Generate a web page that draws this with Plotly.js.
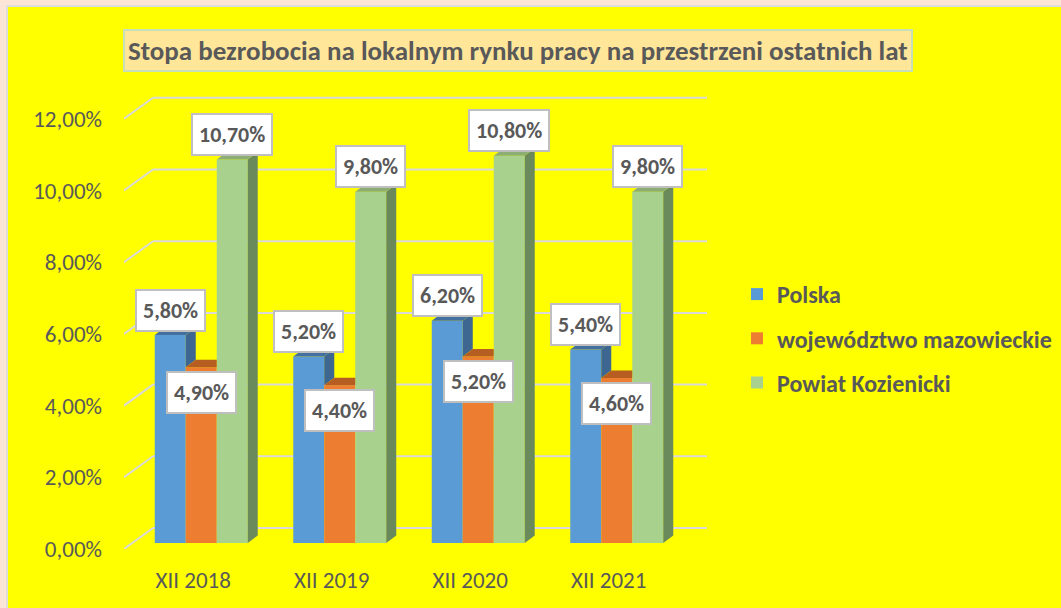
<!DOCTYPE html>
<html>
<head>
<meta charset="utf-8">
<script src="https://cdn.plot.ly/plotly-3.0.1.min.js"></script>
<style>
html,body{margin:0;padding:0;background:#fbe5d6;}
#chart{width:1061px;height:608px;}
</style>
</head>
<body>
<div id="chart"></div>
<script>
// ---- data ----
const categories = ['XII 2018', 'XII 2019', 'XII 2020', 'XII 2021'];
const polska = [5.8, 5.2, 6.2, 5.4];
const mazowieckie = [4.9, 4.4, 5.2, 4.6];
const kozienicki = [10.7, 9.8, 10.8, 9.8];
const seriesNames = ['Polska', 'województwo mazowieckie', 'Powiat Kozienicki'];
const yTicks = [0, 2, 4, 6, 8, 10, 12];
const titleText = 'Stopa bezrobocia na lokalnym rynku pracy na przestrzeni ostatnich lat';

// ---- style / geometry ----
const FONT = 'Carlito, Calibri, Lato, sans-serif';
const TXT = '#595959';
const frontColors = ['#5b9bd5', '#ed7d31', '#a9d18e'];
const topColors = ['#44709f', '#b65e22', '#8cae74'];
const sideColors = ['#3d6690', '#a8561d', '#6b8a5b'];
const PXX = 138.5, PXY = 35.85;
const ML = 124, MT = 83, MB = 59, PW = 583, PH = 466;
const W = 1061, H = 608;
const XMIN = -0.5, XMAX = XMIN + PW / PXX;
const YMAX = PH / PXY;
const BAR_W = 31 / PXX;
const SHIFT = 8 / PXX;
const BASE = 6 / PXY;
const DX = 10 / PXX, DY = 7.5 / PXY;
const WALL_DX = 29 / PXX, WALL_DY = 21 / PXY;

const series = [polska, mazowieckie, kozienicki];
const xIdx = categories.map((c, i) => i);
const offsets = [0, 1, 2].map(k => -1.5 * BAR_W + SHIFT + k * BAR_W);
const fmt = v => v.toFixed(2).replace('.', ',') + '%';

const traces = [];
// front faces: bars
series.forEach((vals, k) => {
  traces.push({
    type: 'bar', x: xIdx, y: vals, base: BASE, width: BAR_W, offset: offsets[k],
    name: seriesNames[k], marker: {color: frontColors[k], line: {width: 0}},
    hoverinfo: 'skip', legendgroup: 'g' + k
  });
});

// side & top faces (polygons computed from data)
series.forEach((vals, k) => {
  const sx = [], sy = [], tx = [], ty = [];
  vals.forEach((v, i) => {
    const x0 = i + offsets[k], x1 = x0 + BAR_W;
    const T = BASE + v;
    const nextT = k < 2 ? BASE + series[k + 1][i] : null;
    const lower = nextT === null ? BASE : nextT;
    if (T > lower) {
      sx.push(x1, x1 + DX, x1 + DX, x1, x1, null);
      sy.push(lower, lower + DY, T + DY, T, lower, null);
    }
    if (nextT !== null && nextT > T) {
      tx.push(x0, x1, x1, x0 + DX, x0, null);
      ty.push(T, T, T + DY, T + DY, T, null);
    } else {
      tx.push(x0, x1, x1 + DX, x0 + DX, x0, null);
      ty.push(T, T, T + DY, T + DY, T, null);
    }
  });
  traces.push({type: 'scatter', mode: 'lines', x: sx, y: sy, fill: 'toself', fillcolor: sideColors[k],
    line: {width: 0, color: sideColors[k]}, showlegend: false, hoverinfo: 'skip', legendgroup: 'g' + k});
  traces.push({type: 'scatter', mode: 'lines', x: tx, y: ty, fill: 'toself', fillcolor: topColors[k],
    line: {width: 0, color: topColors[k]}, showlegend: false, hoverinfo: 'skip', legendgroup: 'g' + k});
});

const px2x = p => (p - ML) / PW;
const py2y = p => (H - MB - p) / PH;

const shapes = [];
shapes.push({type: 'rect', xref: 'paper', yref: 'paper', layer: 'below',
  x0: px2x(7), x1: px2x(W + 5), y0: py2y(H + 5), y1: py2y(6),
  fillcolor: '#ffff00', line: {color: '#dedede', width: 2}});
yTicks.forEach(t => {
  shapes.push({type: 'line', xref: 'x', yref: 'y', layer: 'below',
    x0: XMIN, y0: t, x1: XMIN + WALL_DX, y1: t + WALL_DY, line: {color: '#d9d9d9', width: 2}});
  shapes.push({type: 'line', xref: 'x', yref: 'y', layer: 'below',
    x0: XMIN + WALL_DX, y0: t + WALL_DY, x1: XMAX, y1: t + WALL_DY, line: {color: '#d9d9d9', width: 2}});
});

const annotations = [];
annotations.push({xref: 'paper', yref: 'paper', x: px2x(518), y: py2y(50), xanchor: 'center', yanchor: 'middle',
  text: titleText, showarrow: false, bgcolor: '#ffe699', bordercolor: '#c9dfb8', borderwidth: 2, borderpad: 3,
  font: {family: FONT, size: 27, color: TXT, weight: 'bold'}});
const labelShift = [25, -25, 25];
series.forEach((vals, k) => {
  vals.forEach((v, i) => {
    annotations.push({xref: 'x', yref: 'y', x: i + offsets[k] + BAR_W / 2, y: BASE + v,
      yshift: labelShift[k], xanchor: 'center', yanchor: 'middle', showarrow: false,
      text: fmt(v), bgcolor: '#ffffff', bordercolor: '#bfbfbf', borderwidth: 2, borderpad: 6,
      font: {family: FONT, size: 22, color: TXT, weight: 'bold'}});
  });
});

const layout = {
  width: W, height: H,
  margin: {l: ML, r: W - ML - PW, t: MT, b: MB, pad: 0, autoexpand: false},
  paper_bgcolor: '#fbe5d6', plot_bgcolor: 'rgba(0,0,0,0)',
  separators: ', ',
  barmode: 'overlay',
  showlegend: true,
  legend: {x: px2x(737), y: py2y(272), xanchor: 'left', yanchor: 'top', traceorder: 'grouped',
    tracegroupgap: 10, bgcolor: 'rgba(0,0,0,0)',
    font: {family: FONT, size: 24, color: TXT, weight: 'bold'}},
  xaxis: {range: [XMIN, XMAX], tickvals: xIdx, ticktext: categories, showgrid: false, zeroline: false,
    showline: false, ticks: '', ticklabelstandoff: 15, fixedrange: true, automargin: false,
    tickfont: {family: FONT, size: 23, color: TXT}},
  yaxis: {range: [0, YMAX], tickvals: yTicks, ticktext: yTicks.map(fmt), showgrid: false,
    zeroline: false, showline: false, ticks: '', ticklabelstandoff: 21, fixedrange: true, automargin: false,
    tickfont: {family: FONT, size: 23, color: TXT}},
  shapes: shapes,
  annotations: annotations
};

Plotly.newPlot('chart', traces, layout, {displayModeBar: false, staticPlot: true});
</script>
</body>
</html>
